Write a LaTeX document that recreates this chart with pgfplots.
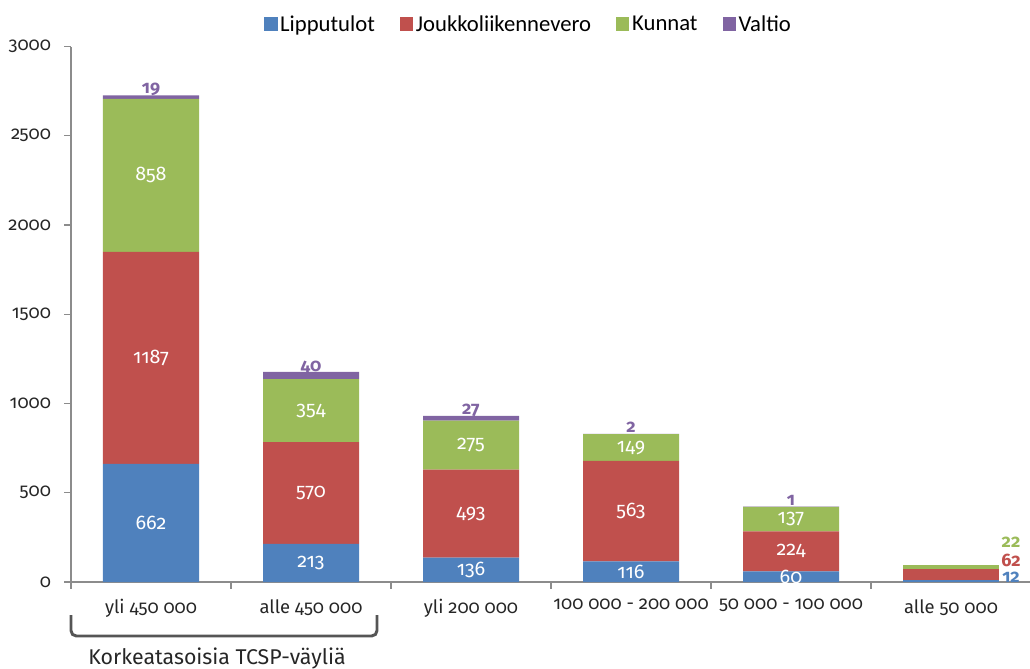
\documentclass[border=0pt]{standalone}
\usepackage{pgfplots}
\pgfplotsset{compat=1.18}
\usepackage{pgfplotstable}
\usepackage{fontspec}
\setmainfont{Fira Sans}[Numbers=OldStyle]
\newfontfamily\legendfont{Carlito}

\definecolor{lipc}{HTML}{4F81BD}
\definecolor{joukc}{HTML}{C0504D}
\definecolor{kunc}{HTML}{9BBB59}
\definecolor{valc}{HTML}{8064A2}
\definecolor{axisgray}{HTML}{8C8C8C}
\definecolor{bracketgray}{HTML}{555555}

% Funding per size class (M EUR)
\pgfplotstableread{
x  lip  jouk  kun  val
0  662  1187  858  19
1  213  570   354  40
2  136  493   275  27
3  116  563   149  2
4  60   224   137  1
}\revenue
% the smallest class, labelled beside its bar
\pgfplotstableread{
x  lip  jouk  kun
5  12   62    22
}\revenuesmall

\pgfplotsset{
  common geometry/.style={
    at={(0,0)}, anchor=south west,
    scale only axis, width=720pt, height=401.6pt,
    ybar stacked, bar width=72pt,
    xmin=-0.5, xmax=5.5, ymin=0, ymax=3000,
    /pgf/number format/1000 sep={},
    /pgf/number format/assume math mode=true,
  },
  % stacked-bar labels sit in the middle of their segment
  inner labels/.style={
    point meta=\thisrow{#1},
    nodes near coords,
    every node near coord/.append style={anchor=center, text=white,
      font=\fontsize{14.8}{15}\selectfont, inner sep=0pt},
  },
  side labels/.style 2 args={
    nodes near coords,
    every node near coord/.append style={anchor=center, text=#1,
      font=\bfseries\fontsize{13.5}{14}\selectfont, inner sep=0pt,
      shift={(axis direction cs:0.375,#2)}},
  },
}

\begin{document}
\begin{tikzpicture}
\useasboundingbox (-53.25pt,-64.5pt) rectangle (719.25pt,436.5pt);
\begin{axis}[
  common geometry, clip=false,
  axis x line*=bottom, axis y line*=left,
  axis line style={draw=axisgray, line width=1pt, -},
  tick align=outside, major tick length=5pt,
  tick style={draw=axisgray, line width=1pt},
  xtick pos=bottom, ytick pos=left,
  ytick={0,500,...,3000},
  xtick={-0.5,0.5,...,5.5}, xticklabels={},
  extra x ticks={0,1,2,3,4,5},
  extra x tick labels={yli 450 000, alle 450 000, yli 200 000, 100 000 - 200 000, 50 000 - 100 000, alle 50 000},
  extra x tick style={major tick length=0pt},
  ticklabel style={font=\fontsize{13.8}{15}\selectfont, text=black!85},
  yticklabel style={xshift=-6.5pt},
  xticklabel style={yshift=-9.5pt},
  legend style={at={(0.5,1)}, anchor=center, xshift=-16.5pt, yshift=16.5pt,
    draw=none, fill=none, legend columns=-1,
    font=\legendfont\fontsize{17}{19}\selectfont,
    /tikz/every even column/.append style={column sep=17pt}},
  legend image code/.code={\fill[#1] (0pt,-4.5pt) rectangle (9.8pt,5.3pt);},
]
\addplot[fill=lipc, draw=none, inner labels=lip] table[x=x, y=lip] {\revenue};
\addlegendentry{Lipputulot}
\addplot[fill=joukc, draw=none, inner labels=jouk] table[x=x, y=jouk] {\revenue};
\addlegendentry{Joukkoliikennevero}
\addplot[fill=kunc, draw=none, inner labels=kun] table[x=x, y=kun] {\revenue};
\addlegendentry{Kunnat}
\addplot[fill=valc, draw=none, point meta=\thisrow{val}, nodes near coords,
  every node near coord/.append style={anchor=south, text=valc,
    font=\bfseries\fontsize{13.5}{14}\selectfont, inner sep=1pt}]
  table[x=x, y=val] {\revenue};
\addlegendentry{Valtio}

% bracket grouping the two high-level classes
\draw[bracketgray, line width=2.2pt, rounded corners=4pt]
  ([yshift=-24.75pt]axis cs:-0.5,0) -- ([yshift=-40.5pt]axis cs:-0.5,0)
  -- ([yshift=-40.5pt]axis cs:1.4125,0) -- ([yshift=-24.75pt]axis cs:1.4125,0);
\node[font=\fontsize{16}{18}\selectfont, text=black!85]
  at ([yshift=-57pt]axis cs:0.4125,0) {Korkeatasoisia TCSP-väyliä};
\end{axis}

\begin{axis}[common geometry, hide axis]
\addplot[fill=lipc, draw=none, point meta=\thisrow{lip}, side labels={lipc}{19}]
  table[x=x, y=lip] {\revenuesmall};
\addplot[fill=joukc, draw=none, point meta=\thisrow{jouk}, side labels={joukc}{80}]
  table[x=x, y=jouk] {\revenuesmall};
\addplot[fill=kunc, draw=none, point meta=\thisrow{kun}, side labels={kunc}{137}]
  table[x=x, y=kun] {\revenuesmall};
\end{axis}
\end{tikzpicture}
\end{document}
